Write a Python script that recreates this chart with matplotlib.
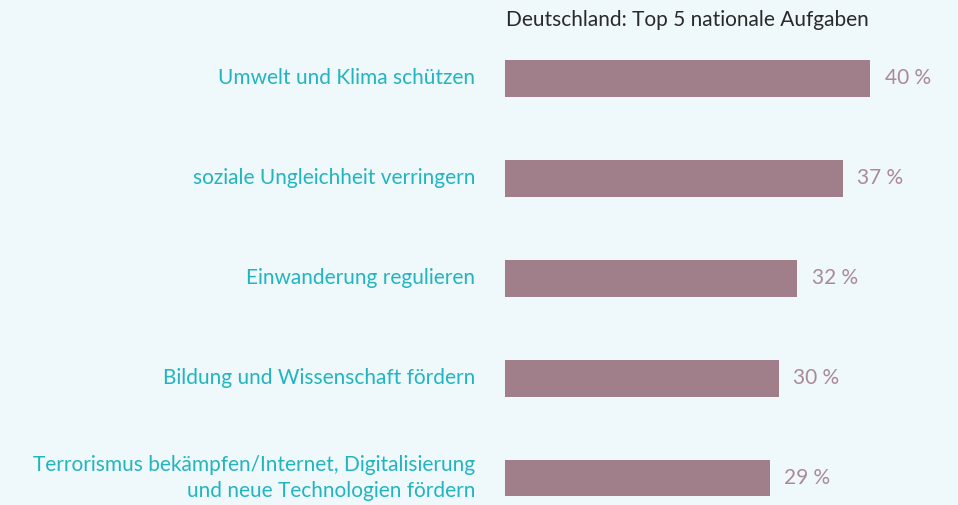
import matplotlib.pyplot as plt

# Daten
aufgaben = [
    'Umwelt und Klima schützen',
    'soziale Ungleichheit verringern',
    'Einwanderung regulieren',
    'Bildung und Wissenschaft fördern',
    'Terrorismus bekämpfen/Internet, Digitalisierung\nund neue Technologien fördern',
]
werte = [40, 37, 32, 30, 29]

titel = 'Deutschland: Top 5 nationale Aufgaben'

hintergrund = '#eff8fb'
balken_farbe = '#a07e8a'
label_farbe = '#22b5c0'
wert_farbe = '#a98b98'

plt.rcParams['font.family'] = ['Lato', 'DejaVu Sans']

fig = plt.figure(figsize=(9.58, 5.05), dpi=100, facecolor=hintergrund)
ax = fig.add_axes([505 / 958, 0, 1 - 505 / 958, 1])
ax.set_facecolor(hintergrund)

pos = list(range(len(werte)))
ax.barh(pos, werte, height=0.37, color=balken_farbe)

ax.set_xlim(0, (958 - 505) / 9.125)
ax.set_ylim(4.27, -0.78)

for y, w in zip(pos, werte):
    ax.text(w + 1.6, y, f'{w}\u2009\u2009%', ha='left', va='center',
            fontsize=15, color=wert_farbe)

for y, name in zip(pos, aufgaben):
    ax.text(-3.3, y, name, ha='right', va='center', fontsize=15,
            color=label_farbe, linespacing=1.38)

ax.text(0.1, -0.58, titel, ha='left', va='center', fontsize=15,
        color='#2a2a2a')

ax.axis('off')

fig.savefig('out.png', dpi=100, facecolor=hintergrund)
